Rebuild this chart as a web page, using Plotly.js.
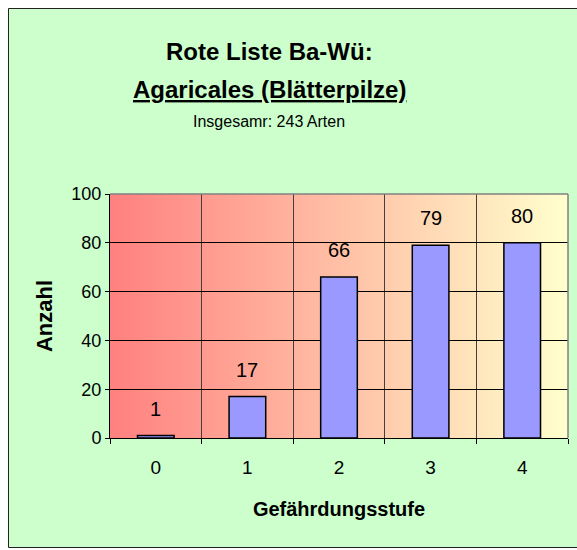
<!DOCTYPE html>
<html>
<head>
<meta charset="utf-8">
<script src="https://cdn.plot.ly/plotly-3.0.1.min.js"></script>
<style>html,body{margin:0;padding:0;background:#fff;}</style>
</head>
<body>
<div id="chart" style="width:577px;height:550px;"></div>
<script>
// ---- data ----
const categories = ['0', '1', '2', '3', '4'];
const counts = [1, 17, 66, 79, 80];
const yTicks = [0, 20, 40, 60, 80, 100];
const titleLine1 = 'Rote Liste Ba-Wü:';
const titleLine2 = 'Agaricales (Blätterpilze)';
const subtitle = 'Insgesamr: 243 Arten';
const xTitle = 'Gefährdungsstufe';
const yTitle = 'Anzahl';

// ---- layout geometry (px) ----
const W = 577, H = 550;
const M = {l: 110, r: 9, t: 194, b: 112};
const PW = W - M.l - M.r, PH = H - M.t - M.b;
const px2x = p => (p - M.l) / PW;
const py2y = p => (H - M.b - p) / PH;

// gradient background image for plot area
const cv = document.createElement('canvas');
cv.width = PW; cv.height = PH;
const ctx = cv.getContext('2d');
const g = ctx.createLinearGradient(0, 0, PW, 0);
g.addColorStop(0, '#ff8080');
g.addColorStop(1, '#ffffcc');
ctx.fillStyle = g;
ctx.fillRect(0, 0, PW, PH);
const gradURL = cv.toDataURL('image/png');

const baseFont = 'Arial, Liberation Sans, sans-serif';

const trace = {
  type: 'bar',
  x: categories,
  y: counts,
  marker: {color: '#9999ff', line: {color: '#000000', width: 1.5}},
  hoverinfo: 'x+y'
};

const labelAnns = categories.map((c, i) => ({
  x: c, y: counts[i], xref: 'x', yref: 'y',
  text: String(counts[i]), showarrow: false,
  xanchor: 'center', yanchor: 'bottom', yshift: 14,
  font: {family: baseFont, size: 20, color: '#000'}
}));

const titleAnns = [
  {text: '<b>' + titleLine1 + '</b>', y: py2y(51), size: 24},
  {text: '<b><u>' + titleLine2 + '</u></b>', y: py2y(89), size: 24},
  {text: subtitle, y: py2y(122), size: 16}
].map(a => ({
  x: px2x(269), y: a.y, xref: 'paper', yref: 'paper',
  text: a.text, showarrow: false, xanchor: 'center', yanchor: 'middle',
  font: {family: baseFont, size: a.size, color: '#000'}
}));

const layout = {
  width: W, height: H, autosize: false,
  margin: M,
  paper_bgcolor: '#ccffcc',
  plot_bgcolor: 'rgba(0,0,0,0)',
  showlegend: false,
  bargap: 0.6,
  font: {family: baseFont, color: '#000'},
  xaxis: {
    type: 'category', range: [-0.5, 4.5],
    tickson: 'boundaries', ticks: 'outside', ticklen: 5, tickcolor: '#000',
    showgrid: true, gridcolor: '#404040', gridwidth: 1,
    showline: true, linecolor: '#000', linewidth: 1,
    tickfont: {family: baseFont, size: 19, color: '#000'},
    ticklabelstandoff: 12,
    title: {text: '<b>' + xTitle + '</b>', font: {family: baseFont, size: 20, color: '#000'}, standoff: 25},
    fixedrange: true
  },
  yaxis: {
    range: [0, 100], tickvals: yTicks, ticktext: yTicks.map(String),
    ticks: 'outside', ticklen: 4, tickcolor: '#000',
    showgrid: true, gridcolor: '#000', gridwidth: 1,
    showline: true, linecolor: '#000', linewidth: 1, zeroline: false,
    tickfont: {family: baseFont, size: 18, color: '#000'},
    title: {text: '<b>' + yTitle + '</b>', font: {family: baseFont, size: 22, color: '#000'}, standoff: 12},
    fixedrange: true
  },
  images: [{
    source: gradURL, xref: 'paper', yref: 'paper',
    x: 0, y: 1, sizex: 1, sizey: 1, xanchor: 'left', yanchor: 'top',
    sizing: 'stretch', layer: 'below'
  }],
  shapes: [
    // white area outside the chart frame
    {type: 'rect', xref: 'paper', yref: 'paper', x0: px2x(-5), x1: px2x(8), y0: py2y(-5), y1: py2y(555), fillcolor: '#fff', line: {width: 0}},
    {type: 'rect', xref: 'paper', yref: 'paper', x0: px2x(-5), x1: px2x(600), y0: py2y(-5), y1: py2y(8), fillcolor: '#fff', line: {width: 0}},
    {type: 'rect', xref: 'paper', yref: 'paper', x0: px2x(-5), x1: px2x(600), y0: py2y(548), y1: py2y(555), fillcolor: '#fff', line: {width: 0}},
    // frame border
    {type: 'rect', xref: 'paper', yref: 'paper', x0: px2x(8.5), x1: px2x(600), y0: py2y(547.5), y1: py2y(8.5), fillcolor: 'rgba(0,0,0,0)', line: {color: '#222', width: 1}},
    // grey top/right plot border
    {type: 'line', xref: 'paper', yref: 'paper', x0: 0, x1: 1, y0: 1, y1: 1, line: {color: '#808080', width: 1.5}},
    {type: 'line', xref: 'paper', yref: 'paper', x0: 1, x1: 1, y0: 0, y1: 1, line: {color: '#808080', width: 1.5}}
  ],
  annotations: titleAnns.concat(labelAnns)
};

Plotly.newPlot('chart', [trace], layout, {displayModeBar: false, staticPlot: true});
</script>
</body>
</html>
